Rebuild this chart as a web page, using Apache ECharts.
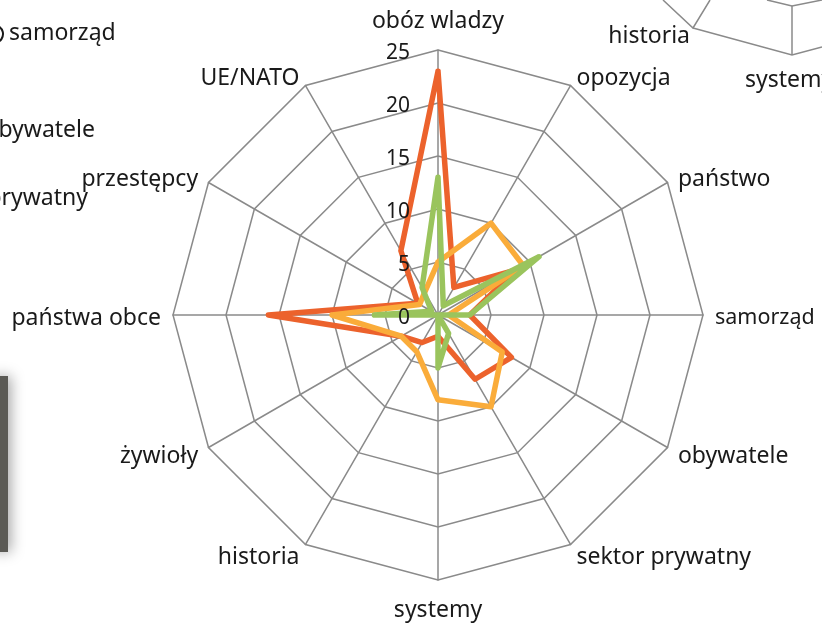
<!DOCTYPE html>
<html>
<head>
<meta charset="utf-8">
<script src="https://cdn.jsdelivr.net/npm/echarts@6/dist/echarts.min.js"></script>
<style>
html,body{margin:0;padding:0;background:#fff;}
#chart{width:822px;height:624px;}
</style>
</head>
<body>
<div id="chart"></div>
<script>
// Categories in clockwise order starting from the top
var categories = ['obóz wladzy','opozycja','państwo','samorząd','obywatele','sektor prywatny','systemy','historia','żywioły','państwa obce','przestępcy','UE/NATO'];
var tickLabels = ['0','5','10','15','20','25'];
var seriesRed = [23, 3, 8.5, 3, 8, 7, 2, 3, 4, 16, 2.2, 7];
var seriesOrange = [5, 10, 9.3, 1, 7, 10, 8, 4, 4, 10, 2, 2.5];
var seriesGreen = [13, 1, 11, 3, 0, 2, 5, 0, 0, 6, 0.7, 3];
var axisMax = 25;
var axisStep = 5;

// ECharts radar runs counter-clockwise: reorder so it reads clockwise
function cw(arr){ return [arr[0]].concat(arr.slice(1).reverse()); }

var FONT = '"Noto Sans", "Open Sans", sans-serif';
var NAME_SIZE = 23;
var CENTER = [438, 315], RADIUS = 265;
// text sits a few pixels lower than the grid in the reference
var TEXT_CENTER = [438, 318];
var gridColor = '#8a8a8a';

// grid + data axes (no text)
var indicators = cw(categories).map(function(n){
  return {name: n, min: 0, max: axisMax};
});
// overlay axes carrying the axis names and tick labels (drawn above the series)
var labelIndicators = cw(categories).map(function(n, i){
  var o = {name: n, min: 0, max: axisMax};
  if (n === 'obóz wladzy') { o.nameGap = 20; }
  if (n === 'systemy') { o.nameGap = 16; }
  if (n === 'samorząd') { o.nameTextStyle = {fontSize: 21.5}; }
  if (i === 0) {
    o.axisLabel = {
      show: true, color: '#1a1a1a', fontSize: 21, fontFamily: FONT,
      margin: 28, align: 'right', verticalAlign: 'middle',
      formatter: function(v){ var k = Math.round(v / axisStep); return tickLabels[k] !== undefined ? tickLabels[k] : ''; }
    };
  }
  return o;
});

var chart = echarts.init(document.getElementById('chart'));
function lineSeries(vals, color){
  return {
    value: cw(vals),
    symbol: 'none',
    lineStyle: {color: color, width: 5.5, join: 'round', cap: 'round'},
    itemStyle: {color: color}
  };
}
function frag(text, x, y, align){
  return {type: 'text', x: x, y: y, style: {text: text, font: NAME_SIZE + 'px ' + FONT, fill: '#1a1a1a', align: align, verticalAlign: 'middle', textAlign: align, textVerticalAlign: 'middle'}};
}
chart.setOption({
  animation: false,
  backgroundColor: '#fff',
  radar: [{
    center: CENTER,
    radius: RADIUS,
    startAngle: 90,
    shape: 'polygon',
    splitNumber: axisMax / axisStep,
    indicator: indicators,
    axisName: {show: false},
    axisLine: {lineStyle: {color: gridColor, width: 1.5}},
    splitLine: {lineStyle: {color: gridColor, width: 1.5}},
    splitArea: {show: false},
    axisTick: {show: false},
    axisLabel: {show: false}
  }, {
    center: TEXT_CENTER,
    radius: RADIUS,
    startAngle: 90,
    shape: 'polygon',
    z: 10,
    splitNumber: axisMax / axisStep,
    indicator: labelIndicators,
    axisName: {color: '#1a1a1a', fontSize: NAME_SIZE, fontFamily: FONT},
    nameGap: 12,
    axisLine: {show: false},
    splitLine: {show: false},
    splitArea: {show: false},
    axisTick: {show: false},
    axisLabel: {show: false}
  }],
  series: [{
    type: 'radar',
    radarIndex: 0,
    silent: true,
    data: [
      lineSeries(seriesRed, '#EC622C'),
      lineSeries(seriesOrange, '#FAAC3A'),
      lineSeries(seriesGreen, '#9AC45D')
    ]
  }],
  graphic: [
    // fragments of neighbouring charts visible at the edges of the crop
    frag('samorząd', 9, 33, 'left'),
    {type: 'arc', shape: {cx: -6, cy: 34, r: 9, startAngle: -1.0, endAngle: 1.0}, style: {stroke: '#1a1a1a', lineWidth: 2, fill: null}},
    frag('obywatele', 95, 130, 'right'),
    frag('prywatny', 88, 198, 'right'),
    frag('historia', 690, 36, 'right'),
    frag('systemy', 745, 80, 'left'),
    {type: 'polyline', shape: {points: [[663,0],[693,28],[710,0]]}, style: {stroke: gridColor, lineWidth: 1.5, fill: null}},
    {type: 'polyline', shape: {points: [[693,28],[792,55],[822,47]]}, style: {stroke: gridColor, lineWidth: 1.5, fill: null}},
    {type: 'polyline', shape: {points: [[792,55],[792,6]]}, style: {stroke: gridColor, lineWidth: 1.5, fill: null}},
    {type: 'polyline', shape: {points: [[767,0],[792,6],[822,0]]}, style: {stroke: gridColor, lineWidth: 1.5, fill: null}},
    {type: 'rect', shape: {x: -10, y: 376, width: 18, height: 176}, style: {fill: '#5b5a55', shadowBlur: 14, shadowColor: 'rgba(0,0,0,0.35)', shadowOffsetX: 3}}
  ]
});
</script>
</body>
</html>
